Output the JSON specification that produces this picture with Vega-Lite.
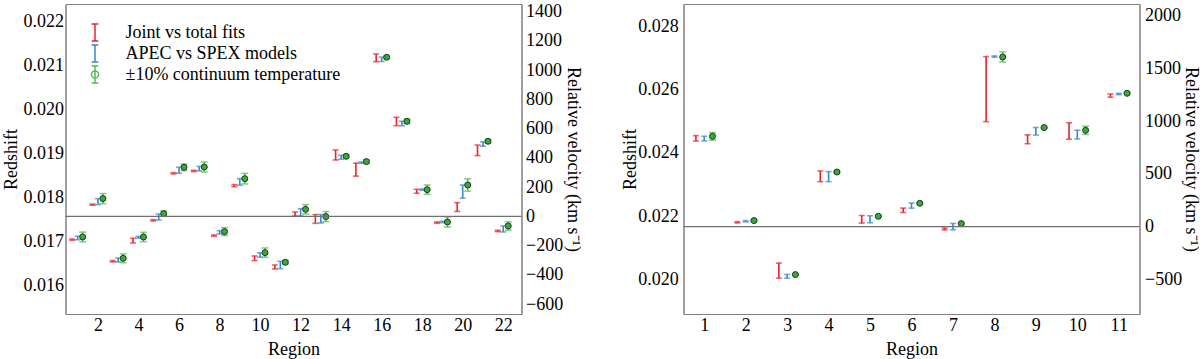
{
  "$schema": "https://vega.github.io/schema/vega-lite/v6.json",
  "padding": {"left": 1.5, "top": 1, "right": 2, "bottom": 0},
  "spacing": 38,
  "datasets": {
    "L": [
      {"r":1,"s":"J","z":0.017038,"lo":0.017023,"hi":0.017053},
      {"r":2,"s":"J","z":0.017833,"lo":0.017821,"hi":0.017845},
      {"r":3,"s":"J","z":0.016546,"lo":0.016531,"hi":0.016561},
      {"r":4,"s":"J","z":0.017015,"lo":0.016962,"hi":0.017068},
      {"r":5,"s":"J","z":0.017477,"lo":0.017462,"hi":0.017492},
      {"r":6,"s":"J","z":0.018546,"lo":0.018531,"hi":0.018561},
      {"r":7,"s":"J","z":0.018599,"lo":0.018584,"hi":0.018614},
      {"r":8,"s":"J","z":0.017129,"lo":0.017114,"hi":0.017144},
      {"r":9,"s":"J","z":0.018265,"lo":0.018242,"hi":0.018288},
      {"r":10,"s":"J","z":0.016614,"lo":0.016561,"hi":0.016667},
      {"r":11,"s":"J","z":0.016417,"lo":0.016372,"hi":0.016462},
      {"r":12,"s":"J","z":0.017621,"lo":0.017576,"hi":0.017666},
      {"r":13,"s":"J","z":0.017508,"lo":0.017408,"hi":0.017608},
      {"r":14,"s":"J","z":0.018962,"lo":0.018848,"hi":0.019076},
      {"r":15,"s":"J","z":0.018629,"lo":0.018481,"hi":0.018777},
      {"r":16,"s":"J","z":0.02117,"lo":0.021083,"hi":0.021257},
      {"r":17,"s":"J","z":0.019723,"lo":0.019628,"hi":0.019818},
      {"r":18,"s":"J","z":0.018136,"lo":0.018091,"hi":0.018181},
      {"r":19,"s":"J","z":0.017424,"lo":0.017409,"hi":0.017439},
      {"r":20,"s":"J","z":0.017779,"lo":0.017679,"hi":0.017879},
      {"r":21,"s":"J","z":0.019068,"lo":0.018948,"hi":0.019188},
      {"r":22,"s":"J","z":0.017235,"lo":0.01722,"hi":0.01725},
      {"r":1,"s":"A","z":0.017076,"lo":0.017036,"hi":0.017116},
      {"r":2,"s":"A","z":0.017902,"lo":0.017834,"hi":0.01797},
      {"r":3,"s":"A","z":0.016576,"lo":0.016531,"hi":0.016621},
      {"r":4,"s":"A","z":0.017091,"lo":0.017071,"hi":0.017111},
      {"r":5,"s":"A","z":0.017553,"lo":0.017485,"hi":0.017621},
      {"r":6,"s":"A","z":0.018614,"lo":0.018546,"hi":0.018682},
      {"r":7,"s":"A","z":0.018652,"lo":0.018602,"hi":0.018702},
      {"r":8,"s":"A","z":0.017205,"lo":0.017167,"hi":0.017243},
      {"r":9,"s":"A","z":0.018349,"lo":0.018273,"hi":0.018425},
      {"r":10,"s":"A","z":0.016689,"lo":0.016639,"hi":0.016739},
      {"r":11,"s":"A","z":0.016462,"lo":0.016379,"hi":0.016545},
      {"r":12,"s":"A","z":0.017659,"lo":0.017576,"hi":0.017742},
      {"r":13,"s":"A","z":0.017515,"lo":0.01742,"hi":0.01761},
      {"r":14,"s":"A","z":0.018909,"lo":0.018864,"hi":0.018954},
      {"r":15,"s":"A","z":0.018788,"lo":0.018773,"hi":0.018803},
      {"r":16,"s":"A","z":0.021136,"lo":0.021086,"hi":0.021186},
      {"r":17,"s":"A","z":0.019677,"lo":0.019627,"hi":0.019727},
      {"r":18,"s":"A","z":0.018174,"lo":0.018159,"hi":0.018189},
      {"r":19,"s":"A","z":0.017439,"lo":0.017424,"hi":0.017454},
      {"r":20,"s":"A","z":0.018129,"lo":0.017979,"hi":0.018279},
      {"r":21,"s":"A","z":0.019211,"lo":0.019161,"hi":0.019261},
      {"r":22,"s":"A","z":0.01728,"lo":0.017212,"hi":0.017348},
      {"r":1,"s":"T","z":0.017099,"lo":0.016989,"hi":0.017209},
      {"r":2,"s":"T","z":0.01797,"lo":0.017856,"hi":0.018084},
      {"r":3,"s":"T","z":0.016614,"lo":0.016514,"hi":0.016714},
      {"r":4,"s":"T","z":0.017099,"lo":0.016993,"hi":0.017205},
      {"r":5,"s":"T","z":0.017629,"lo":0.017569,"hi":0.017689},
      {"r":6,"s":"T","z":0.018682,"lo":0.018606,"hi":0.018758},
      {"r":7,"s":"T","z":0.018689,"lo":0.018575,"hi":0.018803},
      {"r":8,"s":"T","z":0.01722,"lo":0.01713,"hi":0.01731},
      {"r":9,"s":"T","z":0.018424,"lo":0.018304,"hi":0.018544},
      {"r":10,"s":"T","z":0.016742,"lo":0.016636,"hi":0.016848},
      {"r":11,"s":"T","z":0.016523,"lo":0.016483,"hi":0.016563},
      {"r":12,"s":"T","z":0.017727,"lo":0.017621,"hi":0.017833},
      {"r":13,"s":"T","z":0.017561,"lo":0.017447,"hi":0.017675},
      {"r":14,"s":"T","z":0.018932,"lo":0.018902,"hi":0.018962},
      {"r":15,"s":"T","z":0.018811,"lo":0.018771,"hi":0.018851},
      {"r":16,"s":"T","z":0.021182,"lo":0.021152,"hi":0.021212},
      {"r":17,"s":"T","z":0.019727,"lo":0.019677,"hi":0.019777},
      {"r":18,"s":"T","z":0.018174,"lo":0.018068,"hi":0.01828},
      {"r":19,"s":"T","z":0.017439,"lo":0.017325,"hi":0.017553},
      {"r":20,"s":"T","z":0.01828,"lo":0.01814,"hi":0.01842},
      {"r":21,"s":"T","z":0.019273,"lo":0.019233,"hi":0.019313},
      {"r":22,"s":"T","z":0.017349,"lo":0.017254,"hi":0.017444}
    ],
    "R": [
      {"r":1,"s":"J","z":0.024465,"lo":0.02438,"hi":0.02455},
      {"r":2,"s":"J","z":0.021807,"lo":0.021787,"hi":0.021827},
      {"r":3,"s":"J","z":0.020278,"lo":0.020038,"hi":0.020518},
      {"r":4,"s":"J","z":0.023263,"lo":0.023093,"hi":0.023433},
      {"r":5,"s":"J","z":0.021902,"lo":0.021782,"hi":0.022022},
      {"r":6,"s":"J","z":0.022187,"lo":0.022117,"hi":0.022257},
      {"r":7,"s":"J","z":0.021595,"lo":0.021565,"hi":0.021625},
      {"r":8,"s":"J","z":0.026022,"lo":0.024992,"hi":0.027052},
      {"r":9,"s":"J","z":0.024434,"lo":0.024294,"hi":0.024574},
      {"r":10,"s":"J","z":0.024696,"lo":0.024436,"hi":0.024956},
      {"r":11,"s":"J","z":0.025816,"lo":0.025766,"hi":0.025866},
      {"r":1,"s":"A","z":0.024456,"lo":0.024382,"hi":0.02453},
      {"r":2,"s":"A","z":0.021839,"lo":0.021819,"hi":0.021859},
      {"r":3,"s":"A","z":0.020098,"lo":0.020038,"hi":0.020158},
      {"r":4,"s":"A","z":0.023253,"lo":0.023093,"hi":0.023413},
      {"r":5,"s":"A","z":0.021902,"lo":0.021792,"hi":0.022012},
      {"r":6,"s":"A","z":0.022335,"lo":0.022255,"hi":0.022415},
      {"r":7,"s":"A","z":0.021671,"lo":0.021571,"hi":0.021771},
      {"r":8,"s":"A","z":0.027051,"lo":0.027031,"hi":0.027071},
      {"r":9,"s":"A","z":0.024687,"lo":0.024567,"hi":0.024807},
      {"r":10,"s":"A","z":0.024582,"lo":0.024442,"hi":0.024722},
      {"r":11,"s":"A","z":0.025867,"lo":0.025847,"hi":0.025887},
      {"r":1,"s":"T","z":0.024528,"lo":0.024408,"hi":0.024648},
      {"r":2,"s":"T","z":0.021861,"lo":0.021841,"hi":0.021881},
      {"r":3,"s":"T","z":0.020152,"lo":0.020132,"hi":0.020172},
      {"r":4,"s":"T","z":0.023399,"lo":0.023379,"hi":0.023419},
      {"r":5,"s":"T","z":0.021997,"lo":0.021977,"hi":0.022017},
      {"r":6,"s":"T","z":0.022408,"lo":0.022388,"hi":0.022428},
      {"r":7,"s":"T","z":0.021766,"lo":0.021746,"hi":0.021786},
      {"r":8,"s":"T","z":0.027038,"lo":0.026878,"hi":0.027198},
      {"r":9,"s":"T","z":0.024804,"lo":0.024784,"hi":0.024824},
      {"r":10,"s":"T","z":0.024718,"lo":0.024588,"hi":0.024848},
      {"r":11,"s":"T","z":0.025889,"lo":0.025869,"hi":0.025909}
    ]
  },
  "hconcat": [
    {
      "width": 456, "height": 310,
      "data": {"name": "L"},
      "layer": [
        {
          "transform": [{"filter": "datum.s=='J'"}],
          "mark": {"type": "rule", "color": "#e8232b", "strokeWidth": 1.6, "xOffset": -5.5},
          "encoding": {
            "x": {"field": "r", "type": "quantitative", "scale": {"domain": [0.4, 22.9], "nice": false, "zero": false},
              "axis": {"orient": "bottom", "values": [1,2,3,4,5,6,7,8,9,10,11,12,13,14,15,16,17,18,19,20,21,22], "format": "d", "labelFont": "Liberation Serif",
                "labelExpr": "datum.value % 2 == 0 ? datum.label : ''", "tickSize": 0, "labelPadding": 2.3, "title": "Region", "titlePadding": 5.9,
                "encode": {"ticks": {"y2": {"value": -6}}}}},
            "y": {"field": "lo", "type": "quantitative", "scale": {"domain": [0.015348, 0.022393], "nice": false, "zero": false},
              "axis": {"orient": "left", "values": [0.0155,0.016,0.0165,0.017,0.0175,0.018,0.0185,0.019,0.0195,0.02,0.0205,0.021,0.0215,0.022], "format": ".3f", "labelFont": "Liberation Serif",
                "labelExpr": "abs(datum.value*1000-round(datum.value*1000)) < 0.000001 ? datum.label : ''", "tickSize": 0, "labelPadding": 2, "title": "Redshift", "titlePadding": 2.5,
                "encode": {"ticks": {"x2": {"condition": {"test": "abs(datum.value*1000-round(datum.value*1000)) < 0.000001", "value": 7}, "value": 3.5}}}}},
            "y2": {"field": "hi"}
          }
        },
        {
          "transform": [{"filter": "datum.s=='J'"}, {"fold": ["lo", "hi"], "as": ["k", "cap"]}],
          "mark": {"type": "tick", "orient": "horizontal", "color": "#e8232b", "thickness": 1.6, "size": 6, "xOffset": -5.5},
          "encoding": {
            "x": {"field": "r", "type": "quantitative",
              "axis": {"orient": "top", "values": [1,2,3,4,5,6,7,8,9,10,11,12,13,14,15,16,17,18,19,20,21,22], "labels": false, "title": null, "tickSize": 0,
                "encode": {"ticks": {"y2": {"value": 6}}}}},
            "y": {"field": "cap", "type": "quantitative", "scale": {"domain": [0.015348, 0.022393], "nice": false, "zero": false}, "axis": null}
          }
        },
        {
          "transform": [{"filter": "datum.s=='A'"}],
          "mark": {"type": "rule", "color": "#3b86cc", "strokeWidth": 1.6},
          "encoding": {
            "x": {"field": "r", "type": "quantitative", "axis": null},
            "y": {"field": "lo", "type": "quantitative", "scale": {"domain": [0.015348, 0.022393], "nice": false, "zero": false}, "axis": null},
            "y2": {"field": "hi"}
          }
        },
        {
          "transform": [{"filter": "datum.s=='A'"}, {"fold": ["lo", "hi"], "as": ["k", "cap"]}],
          "mark": {"type": "tick", "orient": "horizontal", "color": "#3b86cc", "thickness": 1.6, "size": 6},
          "encoding": {
            "x": {"field": "r", "type": "quantitative", "axis": null},
            "y": {"field": "cap", "type": "quantitative", "scale": {"domain": [0.015348, 0.022393], "nice": false, "zero": false}, "axis": null}
          }
        },
        {
          "transform": [{"filter": "datum.s=='T'"}],
          "mark": {"type": "rule", "color": "#5bb85b", "strokeWidth": 1.6, "xOffset": 5},
          "encoding": {
            "x": {"field": "r", "type": "quantitative", "axis": null},
            "y": {"field": "lo", "type": "quantitative", "scale": {"domain": [0.015348, 0.022393], "nice": false, "zero": false}, "axis": null},
            "y2": {"field": "hi"}
          }
        },
        {
          "transform": [{"filter": "datum.s=='T'"}, {"fold": ["lo", "hi"], "as": ["k", "cap"]}],
          "mark": {"type": "tick", "orient": "horizontal", "color": "#5bb85b", "thickness": 1.6, "size": 7, "xOffset": 5},
          "encoding": {
            "x": {"field": "r", "type": "quantitative", "axis": null},
            "y": {"field": "cap", "type": "quantitative", "scale": {"domain": [0.015348, 0.022393], "nice": false, "zero": false}, "axis": null}
          }
        },
        {
          "transform": [{"filter": "datum.s=='T'"}],
          "mark": {"type": "point", "shape": "circle", "filled": true, "fill": "#3aa93a", "stroke": "#1e3a1e", "strokeWidth": 1, "size": 36, "opacity": 1, "xOffset": 5},
          "encoding": {
            "x": {"field": "r", "type": "quantitative", "axis": null},
            "y": {"field": "z", "type": "quantitative", "scale": {"domain": [0.015348, 0.022393], "nice": false, "zero": false}, "axis": null}
          }
        },
        {
          "mark": {"type": "point", "filled": false, "opacity": 0},
          "encoding": {
            "color": {"field": "s", "type": "nominal",
              "scale": {"domain": ["J", "A", "T"], "range": ["#e8232b", "#3b86cc", "#5bb85b"]},
              "legend": {"orient": "none", "legendX": 20, "legendY": 19, "title": null, "labelLimit": 500,
                "labelExpr": "datum.value == 'J' ? 'Joint vs total fits' : datum.value == 'A' ? 'APEC vs SPEX models' : '±10% continuum temperature'",
                "encode": {"symbols": {"opacity": {"value": 1}, "strokeOpacity": {"value": 1}, "fillOpacity": {"value": 1}, "fill": {"value": {"expr": "datum.value == 'T' ? '#3aa93a' : 'transparent'"}}}}}},
            "shape": {"field": "s", "type": "nominal",
              "scale": {"domain": ["J", "A", "T"], "range": ["M0,-1V1M-0.4,-1H0.4M-0.4,1H0.4", "M0,-1V1M-0.4,-1H0.4M-0.4,1H0.4", "M0,-1V1M-0.4,-1H0.4M-0.4,1H0.4M0.42,0A0.42,0.42,0,1,1,-0.42,0A0.42,0.42,0,1,1,0.42,0Z"]},
              "legend": {"orient": "none", "legendX": 20, "legendY": 19, "title": null, "labelLimit": 500,
                "labelExpr": "datum.value == 'J' ? 'Joint vs total fits' : datum.value == 'A' ? 'APEC vs SPEX models' : '±10% continuum temperature'",
                "encode": {"symbols": {"opacity": {"value": 1}, "strokeOpacity": {"value": 1}, "fillOpacity": {"value": 1}, "fill": {"value": {"expr": "datum.value == 'T' ? '#3aa93a' : 'transparent'"}}}}}}
          }
        },
        {
          "data": {"values": [{"v": 0}]},
          "mark": {"type": "rule", "color": "#707070", "strokeWidth": 1.2},
          "encoding": {
            "y": {"field": "v", "type": "quantitative", "scale": {"domain": [-668, 1452], "nice": false, "zero": false},
              "axis": {"orient": "right", "values": [-600,-500,-400,-300,-200,-100,0,100,200,300,400,500,600,700,800,900,1000,1100,1200,1300,1400], "format": "d", "labelFont": "Liberation Serif",
                "labelExpr": "datum.value % 200 == 0 ? datum.label : ''", "tickSize": 0, "labelPadding": 4, "title": "Relative velocity (km s⁻¹)", "titlePadding": 0.5,
                "encode": {"ticks": {"x2": {"condition": {"test": "datum.value % 200 == 0", "value": -7}, "value": -3.5}}}}}
          }
        }
      ],
      "resolve": {"scale": {"y": "independent"}, "axis": {"x": "independent"}}
    },
    {
      "width": 456, "height": 310,
      "data": {"name": "R"},
      "layer": [
        {
          "transform": [{"filter": "datum.s=='J'"}],
          "mark": {"type": "rule", "color": "#e8232b", "strokeWidth": 1.6, "xOffset": -8.3},
          "encoding": {
            "x": {"field": "r", "type": "quantitative", "scale": {"domain": [0.5, 11.5], "nice": false, "zero": false},
              "axis": {"orient": "bottom", "values": [1,2,3,4,5,6,7,8,9,10,11], "format": "d", "labelFont": "Liberation Serif",
                "tickSize": 0, "labelPadding": 2.3, "title": "Region", "titlePadding": 5.9,
                "encode": {"ticks": {"y2": {"value": -6}}}}},
            "y": {"field": "lo", "type": "quantitative", "scale": {"domain": [0.018905, 0.028715], "nice": false, "zero": false},
              "axis": {"orient": "left", "values": [0.019,0.0195,0.02,0.0205,0.021,0.0215,0.022,0.0225,0.023,0.0235,0.024,0.0245,0.025,0.0255,0.026,0.0265,0.027,0.0275,0.028,0.0285], "format": ".3f", "labelFont": "Liberation Serif",
                "labelExpr": "abs(datum.value*500-round(datum.value*500)) < 0.000001 ? datum.label : ''", "tickSize": 0, "labelPadding": 5.2, "title": "Redshift", "titlePadding": -1.5,
                "encode": {"ticks": {"x2": {"condition": {"test": "abs(datum.value*500-round(datum.value*500)) < 0.000001", "value": 7}, "value": 4}}}}},
            "y2": {"field": "hi"}
          }
        },
        {
          "transform": [{"filter": "datum.s=='J'"}, {"fold": ["lo", "hi"], "as": ["k", "cap"]}],
          "mark": {"type": "tick", "orient": "horizontal", "color": "#e8232b", "thickness": 1.6, "size": 6, "xOffset": -8.3},
          "encoding": {
            "x": {"field": "r", "type": "quantitative",
              "axis": {"orient": "top", "values": [1,2,3,4,5,6,7,8,9,10,11], "labels": false, "title": null, "tickSize": 0,
                "encode": {"ticks": {"y2": {"value": 6}}}}},
            "y": {"field": "cap", "type": "quantitative", "scale": {"domain": [0.018905, 0.028715], "nice": false, "zero": false}, "axis": null}
          }
        },
        {
          "transform": [{"filter": "datum.s=='A'"}],
          "mark": {"type": "rule", "color": "#3b86cc", "strokeWidth": 1.6},
          "encoding": {
            "x": {"field": "r", "type": "quantitative", "axis": null},
            "y": {"field": "lo", "type": "quantitative", "scale": {"domain": [0.018905, 0.028715], "nice": false, "zero": false}, "axis": null},
            "y2": {"field": "hi"}
          }
        },
        {
          "transform": [{"filter": "datum.s=='A'"}, {"fold": ["lo", "hi"], "as": ["k", "cap"]}],
          "mark": {"type": "tick", "orient": "horizontal", "color": "#3b86cc", "thickness": 1.6, "size": 6},
          "encoding": {
            "x": {"field": "r", "type": "quantitative", "axis": null},
            "y": {"field": "cap", "type": "quantitative", "scale": {"domain": [0.018905, 0.028715], "nice": false, "zero": false}, "axis": null}
          }
        },
        {
          "transform": [{"filter": "datum.s=='T'"}],
          "mark": {"type": "rule", "color": "#5bb85b", "strokeWidth": 1.6, "xOffset": 8.3},
          "encoding": {
            "x": {"field": "r", "type": "quantitative", "axis": null},
            "y": {"field": "lo", "type": "quantitative", "scale": {"domain": [0.018905, 0.028715], "nice": false, "zero": false}, "axis": null},
            "y2": {"field": "hi"}
          }
        },
        {
          "transform": [{"filter": "datum.s=='T'"}, {"fold": ["lo", "hi"], "as": ["k", "cap"]}],
          "mark": {"type": "tick", "orient": "horizontal", "color": "#5bb85b", "thickness": 1.6, "size": 7, "xOffset": 8.3},
          "encoding": {
            "x": {"field": "r", "type": "quantitative", "axis": null},
            "y": {"field": "cap", "type": "quantitative", "scale": {"domain": [0.018905, 0.028715], "nice": false, "zero": false}, "axis": null}
          }
        },
        {
          "transform": [{"filter": "datum.s=='T'"}],
          "mark": {"type": "point", "shape": "circle", "filled": true, "fill": "#3aa93a", "stroke": "#1e3a1e", "strokeWidth": 1, "size": 36, "opacity": 1, "xOffset": 8.3},
          "encoding": {
            "x": {"field": "r", "type": "quantitative", "axis": null},
            "y": {"field": "z", "type": "quantitative", "scale": {"domain": [0.018905, 0.028715], "nice": false, "zero": false}, "axis": null}
          }
        },
        {
          "data": {"values": [{"v": 0}]},
          "mark": {"type": "rule", "color": "#707070", "strokeWidth": 1.2},
          "encoding": {
            "y": {"field": "v", "type": "quantitative", "scale": {"domain": [-828, 2110], "nice": false, "zero": false},
              "axis": {"orient": "right", "values": [-750,-500,-250,0,250,500,750,1000,1250,1500,1750,2000], "format": "d", "labelFont": "Liberation Serif",
                "labelExpr": "datum.value % 500 == 0 ? datum.label : ''", "tickSize": 0, "labelPadding": 5, "title": "Relative velocity (km s⁻¹)", "titlePadding": -0.5,
                "encode": {"ticks": {"x2": {"condition": {"test": "datum.value % 500 == 0", "value": -7}, "value": -4}}}}}
          }
        }
      ],
      "resolve": {"scale": {"y": "independent"}, "axis": {"x": "independent"}}
    }
  ],
  "resolve": {"scale": {"color": "independent", "shape": "independent"}},
  "config": {
    "font": "Liberation Serif",
    "style": {"guide-label": {"font": "Liberation Serif"}, "guide-title": {"font": "Liberation Serif"}},
    "view": {"stroke": "#808080", "strokeWidth": 1},
    "axis": {"labelFont": "Liberation Serif", "titleFont": "Liberation Serif", "labelFontSize": 18, "titleFontSize": 18, "titleFontWeight": "normal",
      "labelColor": "#000000", "titleColor": "#000000", "domainColor": "#808080", "tickColor": "#808080", "domainWidth": 1, "tickWidth": 1,
      "grid": false, "labelOverlap": false, "labelFlush": false, "labelBound": false},
    "legend": {"labelFont": "Liberation Serif", "labelFontSize": 18, "labelColor": "#000000", "symbolSize": 289, "symbolStrokeWidth": 1.5,
      "rowPadding": -3, "labelOffset": 21, "padding": 0, "labelLimit": 500}
  }
}
